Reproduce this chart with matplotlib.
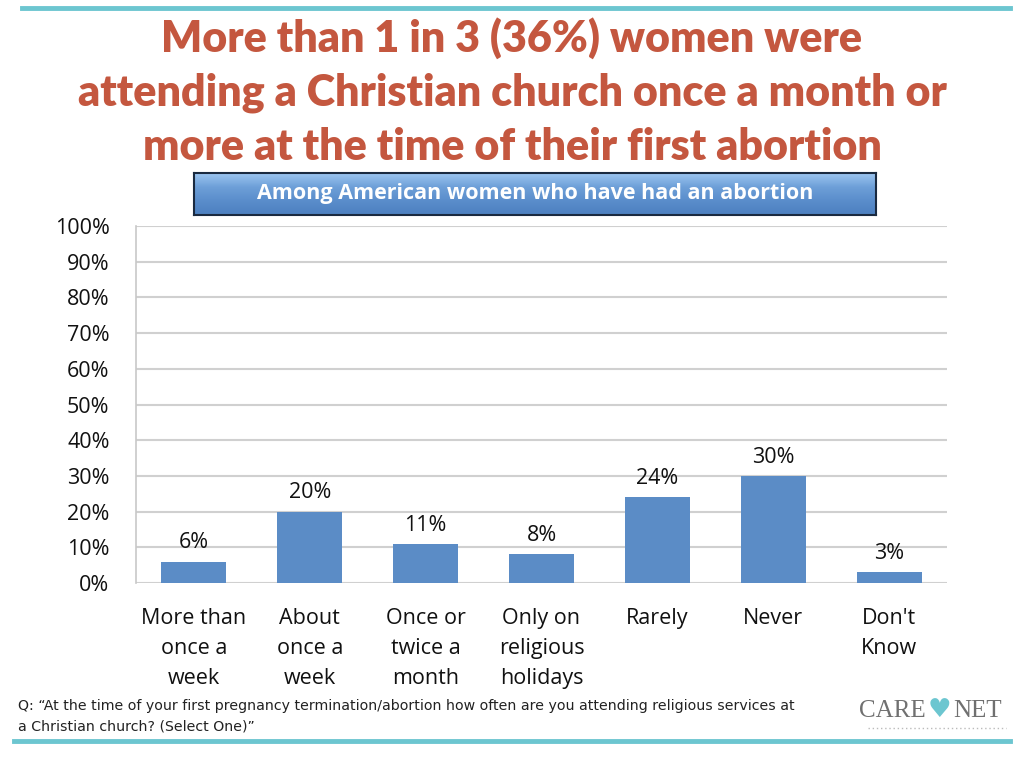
import matplotlib
matplotlib.use("Agg")
import matplotlib.pyplot as plt
import numpy as np
from matplotlib.ticker import PercentFormatter
from matplotlib.colors import LinearSegmentedColormap

categories = ["More than\nonce a\nweek", "About\nonce a\nweek", "Once or\ntwice a\nmonth",
              "Only on\nreligious\nholidays", "Rarely", "Never", "Don't\nKnow"]
values = [6, 20, 11, 8, 24, 30, 3]
yticks = [0, 10, 20, 30, 40, 50, 60, 70, 80, 90, 100]

title_lines = ["More than 1 in 3 (36%) women were",
               "attending a Christian church once a month or",
               "more at the time of their first abortion"]
subtitle = "Among American women who have had an abortion"
footnote = ("Q: \u201cAt the time of your first pregnancy termination/abortion how often are you attending religious services at\n"
            "a Christian church? (Select One)\u201d")

W, H = 1024, 758
fig = plt.figure(figsize=(W / 100, H / 100), dpi=100)
fig.patch.set_facecolor("white")

def fx(px):
    return px / W

def fy(py):
    return 1 - py / H

teal = "#6cc6d0"
title_col = "#c4573f"
bar_col = "#5b8cc6"

# top and bottom rules
fig.add_artist(plt.Line2D([fx(22), fx(1010)], [fy(8), fy(8)], color=teal, lw=3.5))
fig.add_artist(plt.Line2D([fx(14), fx(1010)], [fy(741), fy(741)], color=teal, lw=3.5))

# title
for i, line in enumerate(title_lines):
    fig.text(0.5, fy(38 + i * 54.5), line, ha="center", va="center",
             fontsize=31, fontweight="heavy", color=title_col, family=["Lato", "DejaVu Sans"])

# subtitle box
bx0, bx1, by0, by1 = 194, 876, 173, 215
grad = np.linspace(0, 1, 64).reshape(-1, 1)
axg = fig.add_axes([fx(bx0), fy(by1), fx(bx1 - bx0), (by1 - by0) / H])
cm = LinearSegmentedColormap.from_list("g", ["#9cc5f0", "#6d9fd8", "#5a8dcb", "#4d80c0"])
axg.imshow(grad, aspect="auto", cmap=cm, extent=[0, 1, 0, 1], origin="upper")
axg.set_xlim(0, 1)
axg.set_ylim(0, 1)
axg.set_xticks([])
axg.set_yticks([])
for s in axg.spines.values():
    s.set_color("#1a2a40")
    s.set_linewidth(1.5)
axg.text(0.5, 0.52, subtitle, ha="center", va="center", color="white",
         fontsize=15.5, fontweight="bold", family=["Open Sans", "DejaVu Sans"],
         transform=axg.transAxes)

# main chart
ax = fig.add_axes([fx(136), fy(583), fx(947 - 136), (583 - 226) / H])
x = np.arange(len(categories))
bars = ax.bar(x, values, width=0.56, color=bar_col, zorder=3)
ax.set_ylim(0, 100)
ax.set_xlim(-0.5, len(categories) - 0.5)
ax.set_yticks(yticks)
ax.yaxis.set_major_formatter(PercentFormatter(decimals=0))
ax.grid(axis="y", color="#d0d0d0", lw=1.5, zorder=0)
for s in ["top", "right", "bottom"]:
    ax.spines[s].set_visible(False)
ax.spines["left"].set_color("#c8c8c8")
ax.spines["left"].set_linewidth(1.2)
ax.tick_params(axis="y", length=0, pad=19, labelsize=15.5)
ax.tick_params(axis="x", length=0, pad=18, labelsize=15.5)
ax.set_xticks(x)
ax.set_xticklabels(categories, linespacing=1.55)
for lab in ax.get_xticklabels() + ax.get_yticklabels():
    lab.set_family(["Open Sans", "DejaVu Sans"])
    lab.set_color("#111111")
for b, v in zip(bars, values):
    ax.text(b.get_x() + b.get_width() / 2, v + 2.3, f"{v}%", ha="center", va="bottom",
            fontsize=15.5, family=["Open Sans", "DejaVu Sans"], color="#111111", zorder=4)

# footnote
fig.text(fx(18), fy(716), footnote, ha="left", va="center", fontsize=10.2,
         family=["Liberation Sans Narrow", "DejaVu Sans"], color="#222222", linespacing=1.6)

# logo
fig.text(fx(926), fy(711), "CARE", ha="right", va="center", fontsize=18,
         family=["Liberation Serif"], color="#707070")
fig.text(fx(939), fy(710), "\u2665", ha="center", va="center", fontsize=19,
         family=["DejaVu Sans"], color="#6cc6d0")
fig.text(fx(953), fy(711), "NET", ha="left", va="center", fontsize=18,
         family=["Liberation Serif"], color="#707070")
fig.add_artist(plt.Line2D([fx(868), fx(1006)], [fy(728), fy(728)], color="#bbbbbb",
                          lw=1, ls=(0, (1, 2))))

fig.savefig("out.png", dpi=100, facecolor="white")
